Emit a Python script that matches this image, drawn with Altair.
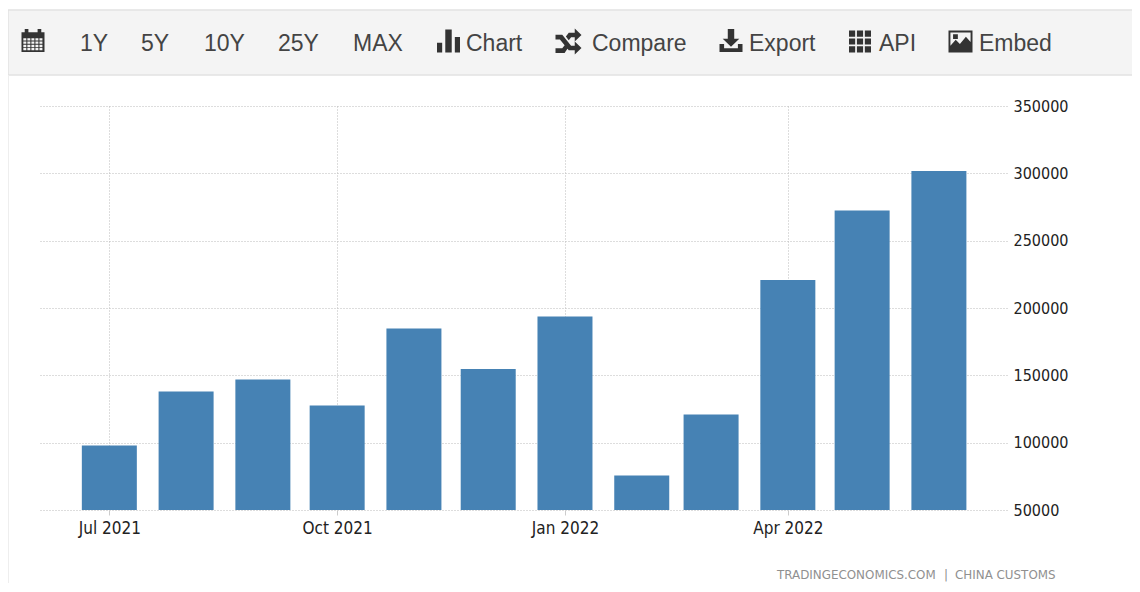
import altair as alt
import pandas as pd

months = ["2021-07-01", "2021-08-01", "2021-09-01", "2021-10-01", "2021-11-01", "2021-12-01",
          "2022-01-01", "2022-02-01", "2022-03-01", "2022-04-01", "2022-05-01", "2022-06-01"]
values = [97900, 138000, 146900, 127600, 184800, 154700, 193700, 75600, 120900, 220800, 272400, 301700]
y_ticks = [50000, 100000, 150000, 200000, 250000, 300000, 350000]
x_ticks = ["2021-07-01", "2021-10-01", "2022-01-01", "2022-04-01"]
toolbar_labels = ["1Y", "5Y", "10Y", "25Y", "MAX", "Chart", "Compare", "Export", "API", "Embed"]
toolbar_x = [80, 141, 204, 278, 353, 466, 592, 749, 879, 979]
credit_labels = ["TRADINGECONOMICS.COM", "|", "CHINA CUSTOMS"]
credit_x = [777, 944, 955]

OX, OY = 40, 106  # page position of the plot origin
one = alt.Data(values=[{}])
df = pd.DataFrame({"month": months, "value": values})


def box(x0, y0, x1, y1, hole=False):
    if hole:
        return f"M{x0} {y0}V{y1}H{x1}V{y0}Z"
    return f"M{x0} {y0}H{x1}V{y1}H{x0}Z"


cal = box(-1, -0.72, 1, 1) + box(-0.72, -1, -0.4, -0.6) + box(0.4, -1, 0.72, -0.6)
for r in range(4):
    for c in range(5):
        cal += box(-0.84 + c * 0.35, -0.2 + r * 0.28, -0.84 + c * 0.35 + 0.26, -0.2 + r * 0.28 + 0.2, hole=True)
bars_icon = box(-1, 0.15, -0.55, 1) + box(-0.28, -1, 0.28, 1) + box(0.55, -0.35, 1, 1)
shuffle = ("M-1 -0.52H-0.48L0.2 0.32H0.48V0L1 0.5L0.48 1V0.68H0.02L-0.66 -0.16H-1Z"
           "M-1 0.52H-0.48L-0.22 0.2L-0.02 0.46L-0.3 0.88H-1Z"
           "M0.02 -0.1L0.2 -0.32H0.48V-0.68H0.02L-0.2 -0.38Z"
           "M0.48 -1L1 -0.5L0.48 0Z")
export = ("M-0.28 -1H0.28V-0.15H0.72L0 0.55L-0.72 -0.15H-0.28Z"
          "M-1 0.3H-0.6V0.68H0.6V0.3H1V1H-1Z")
api = ""
for r in range(3):
    for c in range(3):
        api += box(-1 + c * 0.72, -1 + r * 0.72, -1 + c * 0.72 + 0.56, -1 + r * 0.72 + 0.56)
embed = (box(-1, -0.92, 1, 0.92) + box(-0.84, -0.76, 0.84, 0.76, hole=True)
         + "M-0.84 0.76V0.35L-0.4 -0.15L-0.05 0.2L0.45 -0.4L0.84 0.05V0.76Z"
         + box(-0.62, -0.6, -0.22, -0.2))
icons = [(cal, 33, 40.5, 23), (bars_icon, 448.5, 41, 23), (shuffle, 568.5, 41.5, 26),
         (export, 731, 40.5, 23), (api, 860, 41.5, 22), (embed, 960.5, 41.5, 24)]

y_scale = alt.Scale(domain=[50000, 350000], nice=False, zero=False)
x_scale = alt.Scale(domain=["2021-06-03T00:00:00", "2022-06-28T12:00:00"], nice=False, padding=0)

bars = alt.Chart(df).mark_bar(color="#4682b4", size=55, clip=True).encode(
    x=alt.X("month:T", scale=x_scale, title=None, axis=alt.Axis(
        values=x_ticks, format="%b %Y", labelFont="DejaVu Sans Condensed", labelFontSize=17, labelColor="#222222",
        labelPadding=5, tickColor="#cccccc", tickSize=5, domain=False, grid=True, gridColor="#bbbbbb",
        gridDash=[1, 2], labelFlush=False)),
    y=alt.Y("value:Q", scale=y_scale, title=None, axis=alt.Axis(
        orient="right", values=y_ticks, format="d", labelFont="DejaVu Sans Condensed", labelFontSize=16,
        labelColor="#222222", labelPadding=6, ticks=False, domain=False, grid=True, gridColor="#bbbbbb",
        gridDash=[1, 2])),
)

chrome = [
    alt.Chart(one).mark_rect(color="#f4f4f4", stroke="#e2e2e2", strokeWidth=1.5).encode(
        x=alt.value(8 - OX), x2=alt.value(1140 - OX), y=alt.value(10 - OY), y2=alt.value(75 - OY)),
    alt.Chart(one).mark_rule(color="#eeeeee").encode(
        x=alt.value(8.5 - OX), y=alt.value(75 - OY), y2=alt.value(583 - OY)),
]
for label, px in zip(toolbar_labels, toolbar_x):
    chrome.append(alt.Chart(one).mark_text(
        text=label, align="left", baseline="alphabetic", font="Liberation Sans", fontSize=23, color="#444444"
    ).encode(x=alt.value(px - OX), y=alt.value(51 - OY)))
for path, cx, cy, w in icons:
    chrome.append(alt.Chart(one).mark_point(
        shape=path, filled=True, color="#333333", opacity=1, size=w * w
    ).encode(x=alt.value(cx - OX), y=alt.value(cy - OY)))
for label, px in zip(credit_labels, credit_x):
    chrome.append(alt.Chart(one).mark_text(
        text=label, align="left", baseline="alphabetic", font="DejaVu Sans", fontSize=11.9, color="#909090"
    ).encode(x=alt.value(px - OX), y=alt.value(579 - OY)))

chart = alt.layer(*chrome, bars).properties(
    width=967, height=404,
    autosize=alt.AutoSizeParams(type="none"),
    padding={"left": 32, "top": 98, "right": 125, "bottom": 73},
).configure_view(stroke=None)

chart.save("out.html", embed_options={"renderer": "svg", "actions": False})
